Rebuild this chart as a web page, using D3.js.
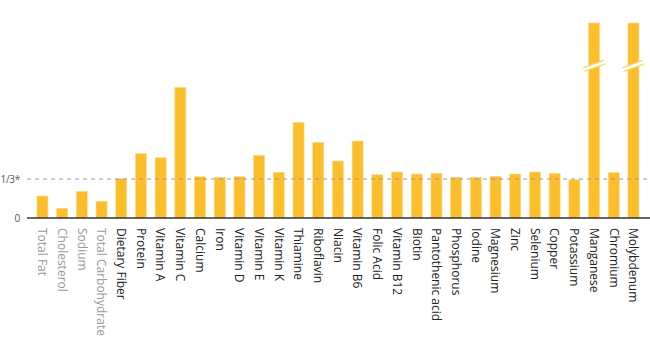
<!DOCTYPE html>
<html>
<head>
<meta charset="utf-8">
<script src="https://cdn.jsdelivr.net/npm/d3@7"></script>
<style>
  body { margin: 0; background: #fff; }
  svg { display: block; font-family: "Open Sans", sans-serif; }
</style>
</head>
<body>
<script>
// nutrients, in the order drawn
let nutrients = ["Total Fat", "Cholesterol", "Sodium", "Total Carbohydrate", "Dietary Fiber",
  "Protein", "Vitamin A", "Vitamin C", "Calcium", "Iron", "Vitamin D", "Vitamin E", "Vitamin K",
  "Thiamine", "Riboflavin", "Niacin", "Vitamin B6", "Folic Acid", "Vitamin B12", "Biotin",
  "Pantothenic acid", "Phosphorus", "Iodine", "Magnesium", "Zinc", "Selenium", "Copper",
  "Potassium", "Manganese", "Chromium", "Molybdenum"]

// percent of daily value
let percentDV = [18.8, 8.3, 22.8, 14.3, 33.6, 55, 51.5, 111.7, 35.3, 34.8, 35.3, 53.6, 39,
  81.8, 64.7, 48.7, 65.8, 37, 39.3, 37.6, 38.2, 34.8, 34.8, 35.6, 37.6, 39.3, 38.2,
  32.7, 450, 38.8, 450]

// nutrients to limit (drawn in grey)
let limitNutrients = ["Total Fat", "Cholesterol", "Sodium", "Total Carbohydrate"]

let refValue = 100 / 3          // the 1/3* line
let maxShown = 166.7            // anything above is cut off with a break mark

let width = 650
let height = 364
let baseY = 218
let topY = 23

let svg = d3.select('body').append('svg')
    .attr('width', width)
    .attr('height', height)

let xScale = d3.scaleBand()
    .domain(nutrients)
    .range([32.6, 643.3])
    .paddingInner(0.44)
    .paddingOuter(0.22)

let yScale = d3.scaleLinear()
    .domain([0, maxShown])
    .range([baseY, topY])
    .clamp(true)

let data = nutrients.map((n, i) => ({ name: n, value: percentDV[i] }))

// bars
svg.selectAll('.bar')
    .data(data)
    .enter().append('rect')
    .attr('class', 'bar')
    .attr('x', d => xScale(d.name))
    .attr('y', d => yScale(d.value))
    .attr('width', xScale.bandwidth())
    .attr('height', d => baseY - yScale(d.value))
    .attr('fill', '#fdbe2c')
    .attr('stroke', '#fedc8c')
    .attr('stroke-width', 0.6)

// break marks on bars that go off the scale
let broken = data.filter(d => d.value > maxShown)
let breakY = yScale(maxShown * 0.78)
broken.forEach(d => {
    let cx = xScale(d.name) + xScale.bandwidth() / 2
    let g = svg.append('g').attr('transform', 'translate(' + cx + ',' + breakY + ') rotate(-20)')
    g.append('line').attr('x1', -11).attr('x2', 11)
        .attr('stroke', '#fdd36a').attr('stroke-width', 5)
    g.append('line').attr('x1', -12).attr('x2', 12)
        .attr('stroke', '#fff').attr('stroke-width', 2.6)
})

// 1/3 reference line
svg.append('line')
    .attr('x1', 27).attr('x2', width)
    .attr('y1', yScale(refValue)).attr('y2', yScale(refValue))
    .attr('stroke', '#9a9a9a')
    .attr('stroke-width', 1)
    .attr('stroke-dasharray', '4,4')

// baseline
svg.append('line')
    .attr('x1', 27).attr('x2', width)
    .attr('y1', baseY).attr('y2', baseY)
    .attr('stroke', '#333')
    .attr('stroke-width', 1.5)

// y labels
let yLabels = [{ v: 0, t: '0' }, { v: refValue, t: '1/3*' }]
svg.selectAll('.ylab')
    .data(yLabels)
    .enter().append('text')
    .attr('class', 'ylab')
    .attr('x', 20)
    .attr('y', d => yScale(d.v))
    .attr('dy', '0.35em')
    .attr('text-anchor', 'end')
    .attr('font-size', 10)
    .attr('letter-spacing', -0.3)
    .attr('fill', '#555')
    .text(d => d.t)

// x labels, rotated
svg.selectAll('.xlab')
    .data(nutrients)
    .enter().append('text')
    .attr('class', 'xlab')
    .attr('transform', d => 'translate(' + (xScale(d) + xScale.bandwidth() / 2) + ',' + (baseY + 10) + ') rotate(90)')
    .attr('dy', '0.35em')
    .attr('font-size', 12)
    .attr('fill', d => limitNutrients.includes(d) ? '#999' : '#222')
    .text(d => d)
</script>
</body>
</html>
